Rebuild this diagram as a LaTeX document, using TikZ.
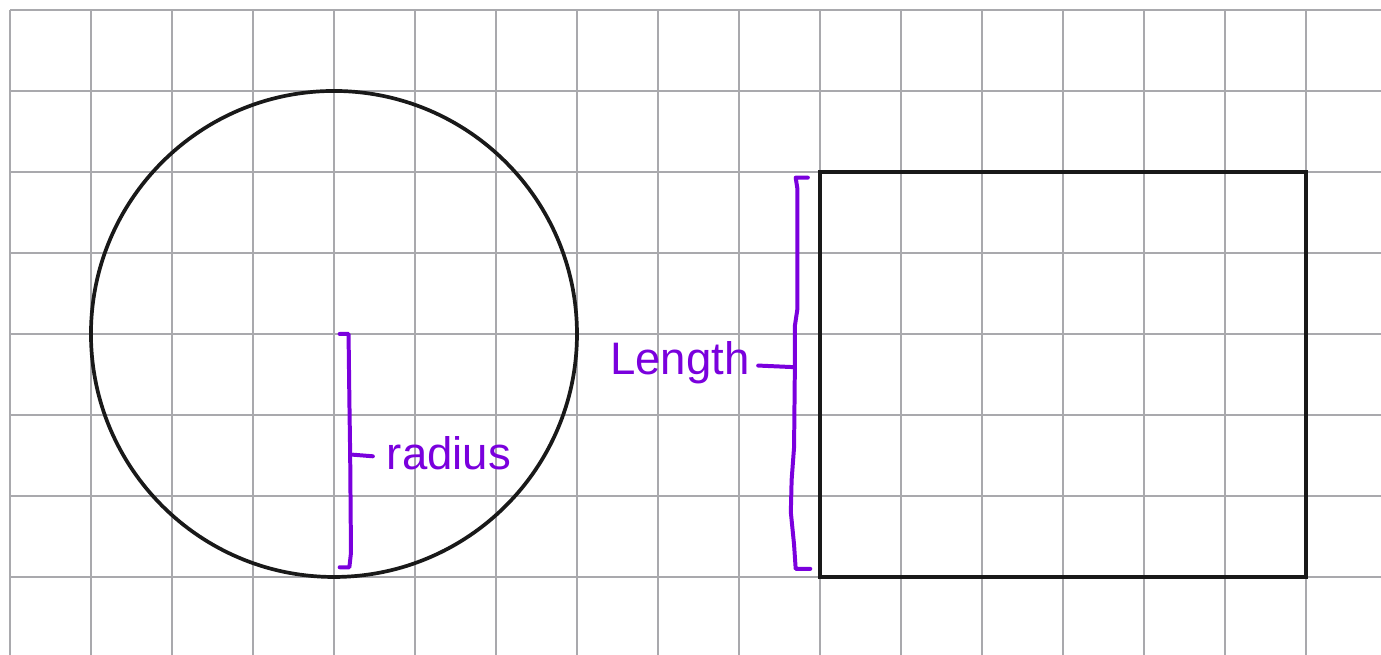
\documentclass[tikz,border=0pt]{standalone}
\usepackage{fontspec}
\setmainfont{Liberation Sans}
\definecolor{gridgray}{HTML}{A9A9AD}
\definecolor{inkpurple}{HTML}{7A00DD}
\tikzset{
  gridline/.style={gridgray, line width=1pt},
  shapeline/.style={black!90, line width=1.3pt},
  bracketline/.style={inkpurple, line width=1.4pt, line cap=round, line join=round},
  handlabel/.style={inkpurple, font=\fontsize{16}{16}\selectfont, inner sep=0pt}
}
\begin{document}
\begin{tikzpicture}
  \useasboundingbox (-0.123,-0.963) rectangle (16.926,7.123);

  % grid paper
  \foreach \x in {0,...,16}
    \draw[gridline] (\x,-0.963) -- (\x,7);
  \foreach \y in {0,...,7}
    \draw[gridline] (0,\y) -- (16.926,\y);

  \draw[shapeline] (4,3) circle (3);
  \draw[shapeline] (10,0) rectangle (16,5);

  % radius bracket
  \coordinate (rtop) at (4.07,3);
  \coordinate (rbot) at (4.07,0.12);
  \coordinate (rtick) at (4.23,1.51);
  \draw[bracketline] (rtop) -- (4.18,3) -- (4.19,2.2) -- (4.2,1.51) -- (4.21,0.3) -- (4.19,0.12) -- (rbot);
  \node[handlabel] (radius) at (5.42,1.53) {radius};
  \draw[bracketline] (rtick) -- (4.48,1.49);

  % length bracket
  \coordinate (ltop) at (9.85,4.93);
  \coordinate (lbot) at (9.88,0.1);
  \draw[bracketline] (ltop) -- (9.7,4.93) -- (9.72,4.8) -- (9.72,3.3) -- (9.69,3.1) -- (9.69,2.59)
    -- (9.68,1.6) -- (9.65,1.2) -- (9.64,0.8) -- (9.68,0.4) -- (9.7,0.1) -- (lbot);
  \node[handlabel] (length) at (8.27,2.64) {Length};
  \coordinate (ltick) at (9.69,2.59);
  \draw[bracketline] (length.east) ++(0.1,-0.03) -- (ltick);
\end{tikzpicture}
\end{document}
